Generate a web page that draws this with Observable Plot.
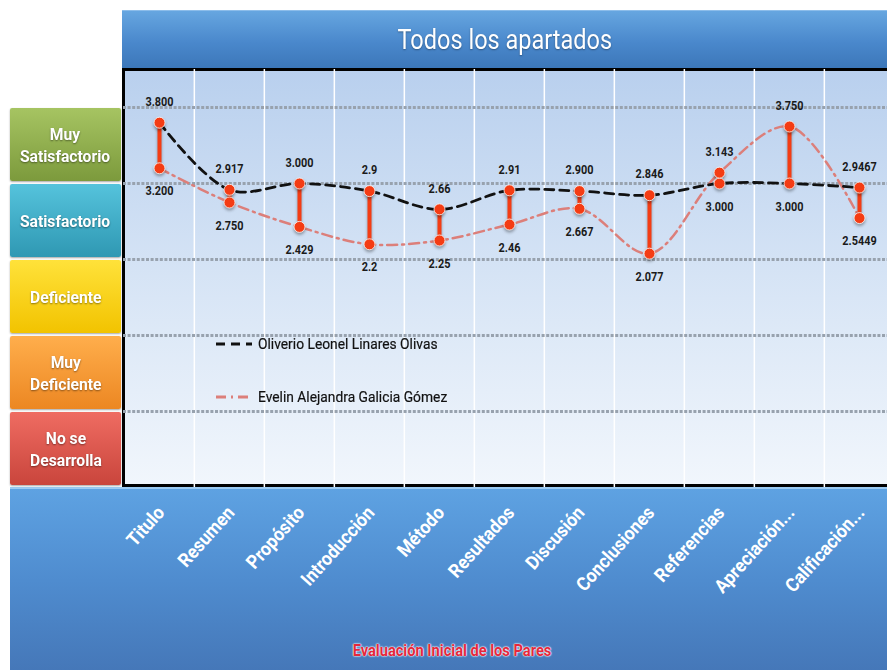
<!DOCTYPE html>
<html><head><meta charset="utf-8">
<script src="https://cdn.jsdelivr.net/npm/d3@7"></script>
<script src="https://cdn.jsdelivr.net/npm/@observablehq/plot@0.6"></script>
<style>
body{margin:0;background:#fff;}
#wrap{position:relative;width:887px;height:670px;overflow:hidden;font-family:Roboto,"Liberation Sans",sans-serif;}
.abs{position:absolute;}
#title{left:122px;top:10px;width:765px;height:57px;background:linear-gradient(#66a6e0,#4a88cc 55%,#3c77b9);border-top:1px solid #8cbdea;color:#fff;font-size:28px;display:flex;align-items:center;justify-content:center;text-shadow:0 1px 2px rgba(0,0,0,.35);}
#title span{display:inline-block;transform:scaleX(0.84);}
#plotbg{left:122px;top:68px;width:780px;height:413px;border:3px solid #000;border-right:none;background:linear-gradient(#b9d0ee,#d9e6f6 55%,#f1f6fc);}
#bottom{left:10px;top:487px;width:877px;height:183px;background:linear-gradient(#5ea2e2,#4f8ccf 50%,#4577b8);border-top:2px solid #9ccbf3;}
.box{left:10px;width:111px;border-radius:2px;color:#fff;font-weight:bold;font-size:17px;line-height:22px;display:flex;align-items:center;justify-content:center;text-align:center;white-space:pre-line;text-shadow:0 1px 2px rgba(0,0,0,.45);box-shadow:0 1px 2px rgba(0,0,0,.35);}
.box span{display:inline-block;transform:scaleX(0.92);}
#xtitle{color:#e4283c;font-weight:bold;font-size:17px;text-shadow:0 0 2px #fff,0 0 2px #fff,0 0 1px #fff;white-space:nowrap;transform:translateX(-50%) scaleX(0.86);}
.leg{font-size:15px;color:#111;white-space:nowrap;display:flex;align-items:center;}
.leg span{display:inline-block;transform:scaleX(0.92);transform-origin:left center;-webkit-text-stroke:0.2px #111;}
</style></head><body><div id="wrap"></div>
<script>
const categories = ["Titulo","Resumen","Propósito","Introducción","Método","Resultados","Discusión","Conclusiones","Referencias","Apreciación...","Calificación..."];
const oliverio = [3.8, 2.917, 3.0, 2.9, 2.66, 2.91, 2.9, 2.846, 3.0, 3.0, 2.9467];
const oliverioLabels = ["3.800","2.917","3.000","2.9","2.66","2.91","2.900","2.846","3.000","3.000","2.9467"];
const evelin = [3.2, 2.75, 2.429, 2.2, 2.25, 2.46, 2.667, 2.077, 3.143, 3.75, 2.5449];
const evelinLabels = ["3.200","2.750","2.429","2.2","2.25","2.46","2.667","2.077","3.143","3.750","2.5449"];
const levels = ["Muy\nSatisfactorio","Satisfactorio","Deficiente","Muy\nDeficiente","No se\nDesarrolla"];
const levelTop = [4, 3, 2, 1, 0];
const levelColors = [["#a6c462","#7c9a3c"],["#55c3dc","#2f98b3"],["#ffe23a","#f2c300"],["#ffae4c","#ec8722"],["#ef6c62","#c9453c"]];
const gridValues = [0, 1, 2, 3, 4];
const seriesNames = ["Oliverio Leonel Linares Olivas","Evelin Alejandra Galicia Gómez"];
const titleText = "Todos los apartados";
const xTitleText = "Evaluación Inicial de los Pares";

const W = 887, H = 670;
const xRange = [122.7, 896.3];
const yDomain = [-1, 4.5], yRange = [487, 69];
const bw = (xRange[1] - xRange[0]) / categories.length;
const barColor = "#f43c14", evColor = "#dc7f7a";

const rows = categories.map((c, i) => {
  const oTop = oliverio[i] >= evelin[i];
  return {cat: c, o: oliverio[i], e: evelin[i],
    hi: Math.max(oliverio[i], evelin[i]), lo: Math.min(oliverio[i], evelin[i]),
    hiLabel: oTop ? oliverioLabels[i] : evelinLabels[i],
    loLabel: oTop ? evelinLabels[i] : oliverioLabels[i]};
});
const pts = rows.flatMap(r => [{cat: r.cat, v: r.o}, {cat: r.cat, v: r.e}]);

const wrap = document.getElementById("wrap");
function add(cls, id, css, text) {
  const d = document.createElement("div");
  d.className = "abs " + (cls || "");
  if (id) d.id = id;
  if (css) Object.assign(d.style, css);
  if (text != null) { const s = document.createElement("span"); s.textContent = text; d.appendChild(s); }
  wrap.appendChild(d);
  return d;
}
add("", "bottom");
add("", "title", null, titleText);
add("", "plotbg");

const font = 'Roboto,"Liberation Sans",sans-serif';
const chart = Plot.plot({
  width: W, height: H,
  marginTop: 69, marginBottom: 183, marginLeft: 123, marginRight: 0,
  x: {type: "point", domain: categories, range: xRange, padding: 0.5, axis: null},
  y: {domain: yDomain, range: yRange, axis: null},
  style: {background: "transparent", fontFamily: font, overflow: "visible"},
  marks: [
    Plot.ruleX(categories.slice(1), {x: d => d, dx: -bw / 2, stroke: "#fff", strokeWidth: 1.5}),
    Plot.ruleY(gridValues, {y: d => d, stroke: "#98a2ae", strokeWidth: 3, strokeDasharray: "3,1.6"}),
    Plot.line(rows, {x: "cat", y: "e", curve: "catmull-rom", stroke: evColor, strokeWidth: 2.5, strokeDasharray: "10,5,2,5"}),
    Plot.line(rows, {x: "cat", y: "o", curve: "catmull-rom", stroke: "#111", strokeWidth: 2.8, strokeDasharray: "9,6"}),
    Plot.ruleX(rows, {x: "cat", y1: "lo", y2: "hi", stroke: barColor, strokeWidth: 4}),
    Plot.dot(pts, {x: "cat", y: "v", r: 5.5, fill: barColor, stroke: "#fff", strokeWidth: 0.8}),
    Plot.text(rows, {x: "cat", y: "hi", text: "hiLabel", dy: -21, fontSize: 13, fontWeight: "bold", fill: "#1a1a1a"}),
    Plot.text(rows, {x: "cat", y: "lo", text: "loLabel", dy: 23, fontSize: 13, fontWeight: "bold", fill: "#1a1a1a"}),
    Plot.text(categories, {x: d => d, frameAnchor: "bottom", rotate: -48, textAnchor: "end", lineAnchor: "top", dx: -4, dy: 17, fill: "#fff", fontSize: 19, fontWeight: "bold"})
  ]
});
Object.assign(chart.style, {position: "absolute", left: "0px", top: "0px", zIndex: 2});
wrap.appendChild(chart);
// soft shadow on the range bars and dots
chart.querySelectorAll('g[aria-label="rule"]').forEach((g, i) => { if (i === 2) g.style.filter = "drop-shadow(0 2px 1.5px rgba(0,0,0,.35))"; });
chart.querySelectorAll('g[aria-label="dot"]').forEach(g => g.style.filter = "drop-shadow(0 2px 1.5px rgba(0,0,0,.35))");
// narrow the text glyphs (the original uses a condensed face)
chart.querySelectorAll('g[aria-label="text"]').forEach((g, i) => {
  const k = i < 2 ? 0.84 : 0.92;
  g.querySelectorAll("text").forEach(t => t.setAttribute("transform", (t.getAttribute("transform") || "") + ` scale(${k},1)`));
});

let ys;
try { const s = chart.scale("y"); ys = s && s.apply ? (v => s.apply(v)) : null; } catch (e) { ys = null; }
if (!ys) { const l = d3.scaleLinear(yDomain, yRange); ys = v => l(v); }

levels.forEach((lab, i) => {
  const t = ys(levelTop[i]), b = ys(levelTop[i] - 1);
  add("box", null, {top: (t + 1) + "px", height: (b - t - 3) + "px",
    background: `linear-gradient(${levelColors[i][0]}, ${levelColors[i][1]})`}, lab);
});

// legend
const legY = [344, 397];
const dashes = ["9,6", "10,5,2,5"];
const legColors = ["#111", evColor];
seriesNames.forEach((n, i) => {
  const d = add("leg", null, {left: "214px", top: (legY[i] - 10) + "px", height: "20px", zIndex: 3});
  d.innerHTML = `<svg width="40" height="20" style="margin-right:4px"><line x1="2" x2="38" y1="10" y2="10" stroke="${legColors[i]}" stroke-width="2.8" stroke-dasharray="${dashes[i]}"/></svg><span></span>`;
  d.querySelector("span").textContent = n;
});
add("", "xtitle", {left: "452px", top: "640px", zIndex: 3}, xTitleText);
</script></body></html>
